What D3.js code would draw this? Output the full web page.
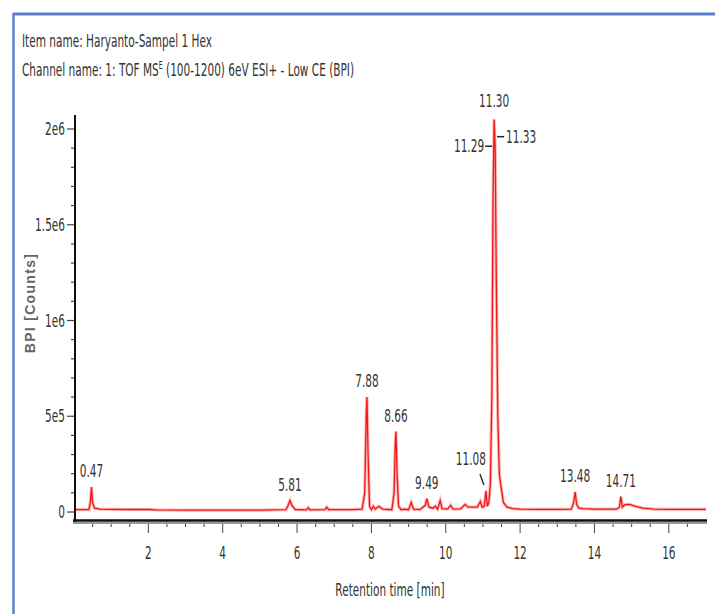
<!DOCTYPE html>
<html lang="en">
<head>
<meta charset="utf-8">
<title>BPI chromatogram</title>
<script src="https://cdnjs.cloudflare.com/ajax/libs/d3/7.8.5/d3.min.js"></script>
<style>
  body { margin: 0; background: #fff; }
  svg text { font-family: "DejaVu Sans", sans-serif; fill: #333; }
</style>
</head>
<body>
<svg width="715" height="614"></svg>
<script>
// retention time (min) and BPI counts
var times = [0.00, 0.40, 0.44, 0.47, 0.50, 0.55, 0.70, 1.00, 1.50, 2.00, 2.20, 3.00, 4.00, 5.00,
  5.70, 5.76, 5.81, 5.86, 5.95, 6.25, 6.30, 6.35, 6.75, 6.80, 6.85, 7.50, 7.75, 7.82, 7.86, 7.88,
  7.91, 7.95, 8.00, 8.05, 8.10, 8.20, 8.30, 8.55, 8.61, 8.64, 8.66, 8.69, 8.73, 8.80, 8.90, 9.00,
  9.07, 9.13, 9.30, 9.45, 9.49, 9.55, 9.65, 9.72, 9.78, 9.85, 9.90, 10.05, 10.13, 10.20, 10.40,
  10.52, 10.60, 10.85, 10.93, 10.98, 11.04, 11.08, 11.12, 11.16, 11.20, 11.24, 11.27, 11.30, 11.33,
  11.36, 11.40, 11.44, 11.48, 11.55, 11.65, 11.80, 12.00, 12.50, 13.00, 13.38, 13.44, 13.48, 13.52,
  13.58, 13.70, 14.00, 14.60, 14.67, 14.71, 14.75, 14.82, 14.95, 15.10, 15.30, 15.60, 16.00, 17.00];
var counts = [12000, 12000, 50000, 130000, 50000, 20000, 15000, 14000, 13000, 13000, 11000, 10000, 10000, 10000,
  12000, 35000, 60000, 35000, 13000, 11000, 22000, 11000, 12000, 25000, 12000, 12000, 15000, 100000, 500000, 600000,
  300000, 30000, 12000, 30000, 15000, 30000, 15000, 12000, 100000, 350000, 420000, 200000, 30000, 12000, 15000, 12000,
  50000, 15000, 12000, 35000, 70000, 25000, 20000, 30000, 15000, 60000, 18000, 15000, 35000, 15000, 16000,
  40000, 25000, 25000, 55000, 25000, 30000, 110000, 30000, 50000, 150000, 600000, 1600000, 2050000, 1900000,
  1200000, 500000, 200000, 140000, 50000, 25000, 18000, 15000, 14000, 14000, 15000, 50000, 105000, 40000,
  20000, 18000, 15000, 15000, 25000, 80000, 25000, 38000, 40000, 30000, 20000, 15000, 14000, 14000];

var peakTimes = [0.47, 5.81, 7.88, 8.66, 9.49, 13.48, 14.71];
var peakCounts = [130000, 60000, 600000, 420000, 70000, 105000, 80000];

var xTicks = [2, 4, 6, 8, 10, 12, 14, 16];
var yTicks = [0, 500000, 1000000, 1500000, 2000000];
var yTickLabels = ["0", "5e5", "1e6", "1.5e6", "2e6"];

var SX = 0.62; // the original font is tall and narrow
var svg = d3.select("svg");

function label(px, py, txt, anchor) {
  return svg.append("text")
    .attr("transform", "translate(" + px + "," + py + ") scale(" + SX + ",1)")
    .attr("text-anchor", anchor || "middle").attr("font-size", 17).text(txt);
}

// blue frame
svg.append("line").attr("x1", 13).attr("y1", 14).attr("x2", 715).attr("y2", 14)
  .attr("stroke", "#5b80c8").attr("stroke-width", 3);
svg.append("line").attr("x1", 13.5).attr("y1", 13).attr("x2", 13.5).attr("y2", 614)
  .attr("stroke", "#5b80c8").attr("stroke-width", 2.5);

// header
label(22, 47, "Item name: Haryanto-Sampel 1 Hex", "start");
var ch = label(22, 76, "", "start");
ch.append("tspan").text("Channel name: 1: TOF MS");
ch.append("tspan").attr("font-size", 10).attr("dy", -7).text("E");
ch.append("tspan").attr("dy", 7).text(" (100-1200) 6eV ESI+ - Low CE (BPI)");

var x = d3.scaleLinear().domain([0, 17]).range([74, 706]);
var y = d3.scaleLinear().domain([0, 2000000]).range([512, 129]);

// trace
var line = d3.line().x(function (d, i) { return x(times[i]); }).y(function (d) { return y(d); });
svg.append("path").attr("d", line(counts)).attr("fill", "none")
  .attr("stroke", "#ff5a5a").attr("stroke-opacity", 0.45).attr("stroke-width", 3.2);
svg.append("path").attr("d", line(counts)).attr("fill", "none")
  .attr("stroke", "#f01818").attr("stroke-width", 1.3);

// x axis
var xMinor = d3.range(0.5, 17, 0.5);
svg.append("g").selectAll("line").data(xMinor).enter().append("line")
  .attr("x1", function (d) { return x(d); }).attr("x2", function (d) { return x(d); })
  .attr("y1", 521).attr("y2", function (d) { return d % 2 === 0 ? 533 : 527; })
  .attr("stroke", "#444").attr("stroke-width", 1);
svg.append("line").attr("x1", 73).attr("x2", 707).attr("y1", 523).attr("y2", 523)
  .attr("stroke", "#999").attr("stroke-width", 2);
svg.append("line").attr("x1", 73).attr("x2", 707).attr("y1", 520.5).attr("y2", 520.5)
  .attr("stroke", "#111").attr("stroke-width", 2.5);
xTicks.forEach(function (d) { label(x(d), 559, d); });
label(390, 596, "Retention time [min]");

// y axis
var yMinor = d3.range(0, 2100000, 100000);
svg.append("g").selectAll("line").data(yMinor).enter().append("line")
  .attr("x1", function (d) { return d % 500000 === 0 ? 67 : 71; }).attr("x2", 75)
  .attr("y1", function (d) { return y(d); }).attr("y2", function (d) { return y(d); })
  .attr("stroke", "#444").attr("stroke-width", 1.2);
svg.append("line").attr("x1", 75).attr("x2", 75).attr("y1", 115).attr("y2", 522)
  .attr("stroke", "#111").attr("stroke-width", 2);
yTicks.forEach(function (d, i) { label(65, y(d) + 6, yTickLabels[i], "end"); });
svg.append("text").attr("transform", "translate(35,303) rotate(-90)").attr("text-anchor", "middle")
  .style("font-family", "'Liberation Sans', Arial, sans-serif").style("fill", "#666")
  .attr("font-weight", "bold").attr("font-size", 14).attr("letter-spacing", 1.3)
  .text("BPI [Counts]");

// peak labels
peakTimes.forEach(function (d, i) { label(x(d), y(peakCounts[i]) - 10, d.toFixed(2)); });

// 11.08 with leader
label(x(11.08) - 15, y(110000) - 26, "11.08");
svg.append("line").attr("x1", x(11.08) - 6).attr("y1", y(110000) - 17)
  .attr("x2", x(11.08) - 2).attr("y2", y(110000) - 6).attr("stroke", "#222").attr("stroke-width", 1.3);

// main peak cluster
label(x(11.30), y(2050000) - 12, "11.30");
label(x(11.30) - 10, y(1910000) + 6, "11.29", "end");
svg.append("line").attr("x1", x(11.30) - 9).attr("x2", x(11.30) - 2)
  .attr("y1", y(1910000)).attr("y2", y(1910000)).attr("stroke", "#222").attr("stroke-width", 1.5);
label(x(11.30) + 12, y(1960000) + 6, "11.33", "start");
svg.append("line").attr("x1", x(11.30) + 3).attr("x2", x(11.30) + 10)
  .attr("y1", y(1960000)).attr("y2", y(1960000)).attr("stroke", "#222").attr("stroke-width", 1.5);
</script>
</body>
</html>
